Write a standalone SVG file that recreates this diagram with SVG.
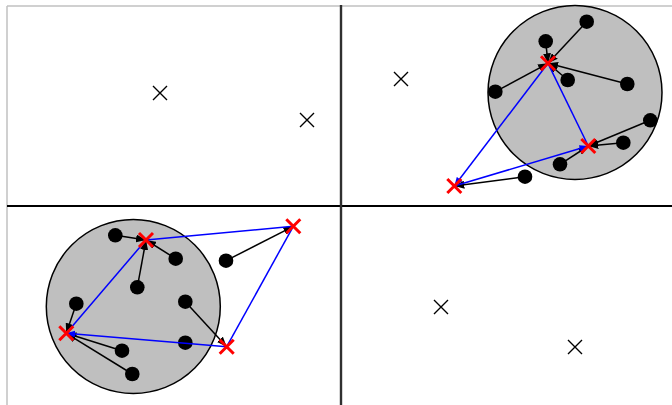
<svg xmlns="http://www.w3.org/2000/svg" width="672" height="405" viewBox="0 0 672 405">
<style>
.frame{stroke:#c0c0c0;stroke-width:1.5;fill:none}
.circ{fill:#bfbfbf;stroke:#000;stroke-width:1.5}
.dot{fill:#000}
.blk{stroke:#000;stroke-width:1.5;fill:none;marker-end:url(#ah)}
.blu{stroke:#0000ff;stroke-width:1.5;fill:none}
.blua{stroke:#0000ff;stroke-width:1.5;fill:none;marker-end:url(#bh)}
.rx{stroke:#ff0000;stroke-width:3;fill:none}
.kx{stroke:#000;stroke-width:1.4;fill:none}
</style>
<defs>
<marker id="ah" viewBox="0 0 10 8" refX="10" refY="4" markerWidth="10" markerHeight="8" markerUnits="userSpaceOnUse" orient="auto"><path d="M0,0 L10,4 L0,8 z" fill="#000"/></marker>
<marker id="bh" viewBox="0 0 10 8" refX="10" refY="4" markerWidth="9" markerHeight="7" markerUnits="userSpaceOnUse" orient="auto"><path d="M0,0 L10,4 L0,8 z" fill="#0000ff"/></marker>
<path id="kx" d="M-7,-7 L7,7 M-7,7 L7,-7"/>
<path id="rx" d="M-7,-7 L7,7 M-7,7 L7,-7"/>
</defs>
<rect width="672" height="405" fill="#fff"/>
<g id="frame">
<line class="frame" x1="7" y1="6" x2="672" y2="6"/>
<line class="frame" x1="7" y1="6" x2="7" y2="405"/>
<line x1="7" y1="206" x2="672" y2="206" stroke="#000" stroke-width="1.8"/>
<line x1="341" y1="5" x2="341" y2="405" stroke="#303030" stroke-width="2.4"/>
</g>
<g id="q1">
<use href="#kx" class="kx" x="160" y="93"/>
<use href="#kx" class="kx" x="307" y="120"/>
</g>
<g id="q4">
<use href="#kx" class="kx" x="441" y="307"/>
<use href="#kx" class="kx" x="575" y="347"/>
</g>
<g id="q2">
<circle class="circ" cx="575" cy="92.5" r="87"/>
<g id="q2-dots">
<circle class="dot" cx="586.7" cy="21.7" r="7.3"/>
<circle class="dot" cx="545.7" cy="41.3" r="7.3"/>
<circle class="dot" cx="567.7" cy="80" r="7.3"/>
<circle class="dot" cx="627.3" cy="84" r="7.3"/>
<circle class="dot" cx="495.3" cy="91.7" r="7.3"/>
<circle class="dot" cx="650.3" cy="120.3" r="7.3"/>
<circle class="dot" cx="623.3" cy="142.7" r="7.3"/>
<circle class="dot" cx="560" cy="164.3" r="7.3"/>
<circle class="dot" cx="525" cy="176.7" r="7.3"/>
</g>
<g id="q2-connectors">
<line class="blk" x1="586.7" y1="21.7" x2="548" y2="63.3"/>
<line class="blk" x1="545.7" y1="41.3" x2="548" y2="63.3"/>
<line class="blk" x1="567.7" y1="80" x2="548" y2="63.3"/>
<line class="blk" x1="627.3" y1="84" x2="548" y2="63.3"/>
<line class="blk" x1="495.3" y1="91.7" x2="548" y2="63.3"/>
<line class="blk" x1="650.3" y1="120.3" x2="588.3" y2="146"/>
<line class="blk" x1="623.3" y1="142.7" x2="588.3" y2="146"/>
<line class="blk" x1="560" y1="164.3" x2="588.3" y2="146"/>
<line class="blk" x1="525" y1="176.7" x2="454.3" y2="186"/>
<line class="blua" x1="548" y1="63.3" x2="454.3" y2="186"/>
<line class="blu" x1="548" y1="63.3" x2="588.3" y2="146"/>
<line class="blua" x1="454.3" y1="186" x2="588.3" y2="146"/>
</g>
<use href="#rx" class="rx" x="548" y="63.3"/>
<use href="#rx" class="rx" x="588.3" y="146"/>
<use href="#rx" class="rx" x="454.3" y="186"/>
<use href="#kx" class="kx" x="401" y="79"/>
</g>
<g id="q3">
<circle class="circ" cx="133.3" cy="306.5" r="87"/>
<g id="q3-dots">
<circle class="dot" cx="115.3" cy="235.3" r="7.3"/>
<circle class="dot" cx="175.7" cy="258.7" r="7.3"/>
<circle class="dot" cx="226" cy="260.7" r="7.3"/>
<circle class="dot" cx="137.3" cy="287.3" r="7.3"/>
<circle class="dot" cx="185.3" cy="301.7" r="7.3"/>
<circle class="dot" cx="76.3" cy="303.7" r="7.3"/>
<circle class="dot" cx="185.3" cy="342.7" r="7.3"/>
<circle class="dot" cx="122" cy="350.7" r="7.3"/>
<circle class="dot" cx="132.3" cy="374" r="7.3"/>
</g>
<g id="q3-connectors">
<line class="blk" x1="115.3" y1="235.3" x2="146" y2="240"/>
<line class="blk" x1="175.7" y1="258.7" x2="146" y2="240"/>
<line class="blk" x1="137.3" y1="287.3" x2="146" y2="240"/>
<line class="blk" x1="226" y1="260.7" x2="293.3" y2="226.3"/>
<line class="blk" x1="185.3" y1="301.7" x2="226.7" y2="346.7"/>
<line class="blk" x1="76.3" y1="303.7" x2="66.3" y2="333.3"/>
<line class="blk" x1="122" y1="350.7" x2="66.3" y2="333.3"/>
<line class="blk" x1="132.3" y1="374" x2="66.3" y2="333.3"/>
<line class="blu" x1="146" y1="240" x2="293.3" y2="226.3"/>
<line class="blu" x1="293.3" y1="226.3" x2="226.7" y2="346.7"/>
<line class="blua" x1="226.7" y1="346.7" x2="66.3" y2="333.3"/>
<line class="blu" x1="66.3" y1="333.3" x2="146" y2="240"/>
</g>
<use href="#rx" class="rx" x="146" y="240"/>
<use href="#rx" class="rx" x="293.3" y="226.3"/>
<use href="#rx" class="rx" x="66.3" y="333.3"/>
<use href="#rx" class="rx" x="226.7" y="346.7"/>
</g>
</svg>
